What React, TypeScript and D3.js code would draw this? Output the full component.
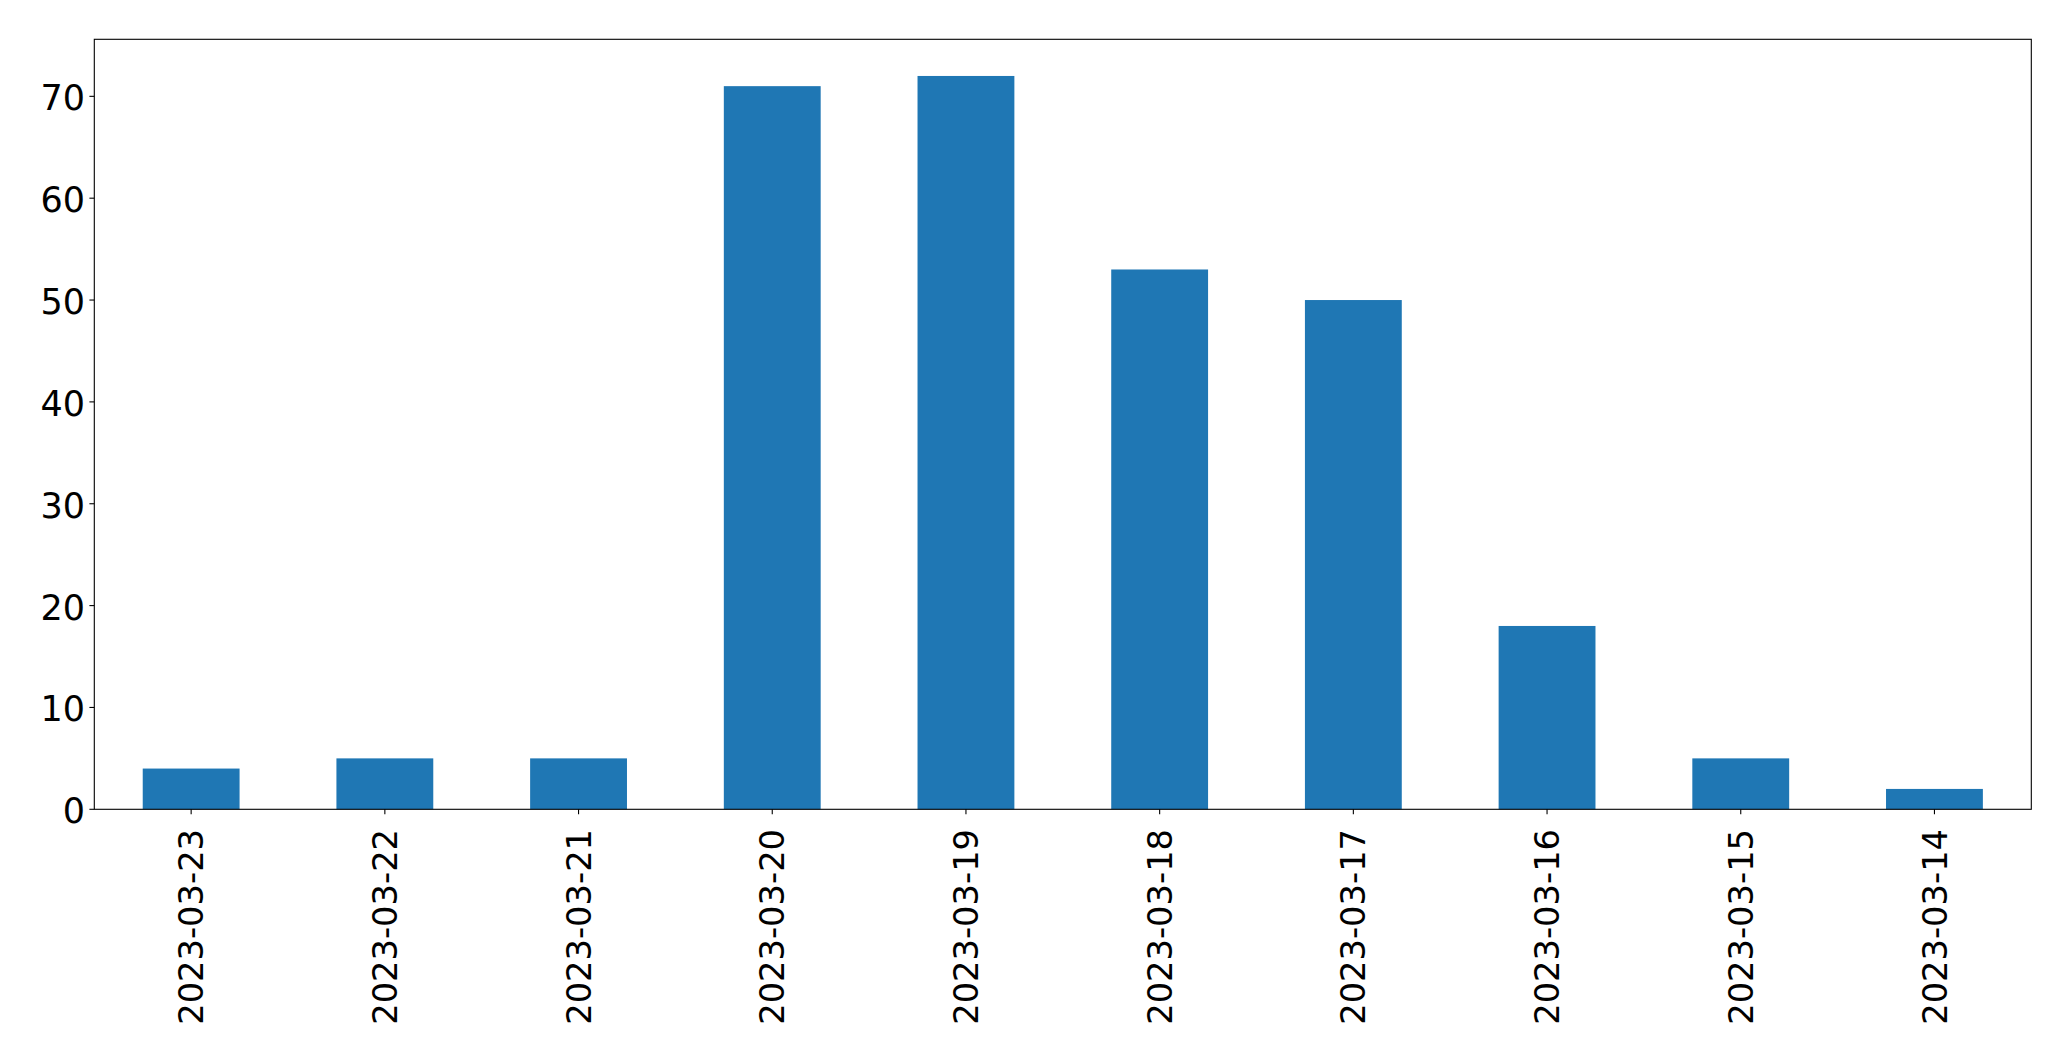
import React from "react";
import * as d3 from "d3";

const categories = ["2023-03-23","2023-03-22","2023-03-21","2023-03-20","2023-03-19","2023-03-18","2023-03-17","2023-03-16","2023-03-15","2023-03-14"];
const values = [4, 5, 5, 71, 72, 53, 50, 18, 5, 2];
const yTicks = [0, 10, 20, 30, 40, 50, 60, 70];

const W = 2071, H = 1061;
const left = 94.3, right = 2031.3, top = 39.3, bottom = 809.3;
const FONT = "DejaVu Sans, sans-serif";

export default function App() {
  const x = d3.scaleBand<string>().domain(categories).range([left, right]).paddingInner(0.5).paddingOuter(0.25);
  const y = d3.scaleLinear().domain([0, d3.max(values)! * 1.05]).range([bottom, top]);
  return (
    <svg width={W} height={H} style={{ position: "absolute", left: 0, top: 0, background: "#fff" }}>
      {categories.map((c, i) => (
        <rect key={c} x={x(c)} y={y(values[i])} width={x.bandwidth()} height={y(0) - y(values[i])} fill="#1f77b4" />
      ))}
      <rect x={left} y={top} width={right - left} height={bottom - top} fill="none" stroke="#000" strokeWidth={1.1} />
      {yTicks.map((t) => (
        <g key={t}>
          <line x1={left - 4.9} x2={left} y1={y(t)} y2={y(t)} stroke="#000" strokeWidth={1.1} />
          <text x={85} y={y(t)} dy="0.4em" textAnchor="end" fontFamily={FONT} fontSize={35} fill="#000">{t}</text>
        </g>
      ))}
      {categories.map((c) => {
        const cx = x(c)! + x.bandwidth() / 2;
        return (
          <g key={c}>
            <line x1={cx} x2={cx} y1={bottom} y2={bottom + 4.9} stroke="#000" strokeWidth={1.1} />
            <text transform={`translate(${cx},${829}) rotate(-90)`} dy="0.36em" textAnchor="end" fontFamily={FONT} fontSize={33.7} fill="#000">{c}</text>
          </g>
        );
      })}
    </svg>
  );
}
